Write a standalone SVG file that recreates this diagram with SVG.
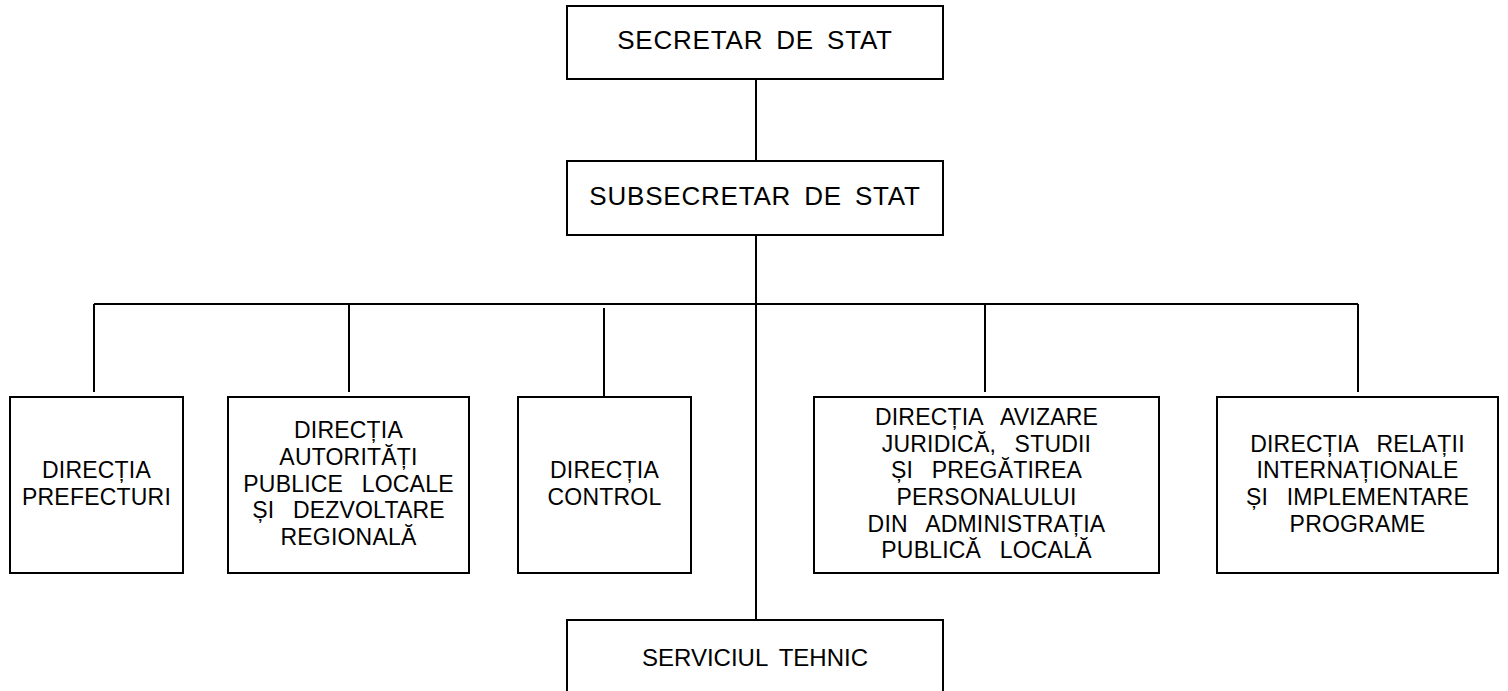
<svg xmlns="http://www.w3.org/2000/svg" width="1508" height="691" viewBox="0 0 1508 691">
<style>
.box{fill:#fff;stroke:#000;stroke-width:2}
.ln{stroke:#000;stroke-width:2;fill:none}
text{font-family:"Liberation Sans",Arial,sans-serif;font-size:23px;fill:#000;text-anchor:middle;letter-spacing:0.2px;word-spacing:12px}
text.big{font-size:26px;letter-spacing:0.8px;word-spacing:5px}
text.svc{font-size:24px;letter-spacing:0px;word-spacing:5px}
</style>
<rect width="1508" height="691" fill="#fff"/>
<g id="connectors">
<line class="ln" x1="756" y1="79" x2="756" y2="161"/>
<line class="ln" x1="756" y1="235" x2="756" y2="620"/>
<line class="ln" x1="94" y1="304" x2="1358" y2="304"/>
<line class="ln" x1="94" y1="304" x2="94" y2="392"/>
<line class="ln" x1="349" y1="304" x2="349" y2="392"/>
<line class="ln" x1="604" y1="308" x2="604" y2="397"/>
<line class="ln" x1="985" y1="304" x2="985" y2="392"/>
<line class="ln" x1="1358" y1="304" x2="1358" y2="392"/>
</g>
<g id="secretar">
<rect class="box" x="567" y="6" width="376" height="73"/>
<text class="big" x="755" y="49">SECRETAR DE STAT</text>
</g>
<g id="subsecretar">
<rect class="box" x="567" y="161" width="376" height="74"/>
<text class="big" x="755" y="205">SUBSECRETAR DE STAT</text>
</g>
<g id="prefecturi">
<rect class="box" x="10" y="397" width="173" height="176"/>
<text x="96.5" y="478">DIRECȚIA</text>
<text x="96.5" y="505">PREFECTURI</text>
</g>
<g id="autoritati">
<rect class="box" x="228" y="397" width="241" height="176"/>
<text x="348.5" y="438">DIRECȚIA</text>
<text x="348.5" y="465">AUTORITĂȚI</text>
<text x="348.5" y="492">PUBLICE LOCALE</text>
<text x="348.5" y="518">ȘI DEZVOLTARE</text>
<text x="348.5" y="545">REGIONALĂ</text>
</g>
<g id="control">
<rect class="box" x="518" y="397" width="173" height="176"/>
<text x="604.5" y="478">DIRECȚIA</text>
<text x="604.5" y="505">CONTROL</text>
</g>
<g id="avizare">
<rect class="box" x="814" y="397" width="345" height="176"/>
<text x="986.5" y="425">DIRECȚIA AVIZARE</text>
<text x="986.5" y="452">JURIDICĂ, STUDII</text>
<text x="986.5" y="478">ȘI PREGĂTIREA</text>
<text x="986.5" y="505">PERSONALULUI</text>
<text x="986.5" y="532">DIN ADMINISTRAȚIA</text>
<text x="986.5" y="558">PUBLICĂ LOCALĂ</text>
</g>
<g id="relatii">
<rect class="box" x="1217" y="397" width="281" height="176"/>
<text x="1357.5" y="452">DIRECȚIA RELAȚII</text>
<text x="1357.5" y="478">INTERNAȚIONALE</text>
<text x="1357.5" y="505">ȘI IMPLEMENTARE</text>
<text x="1357.5" y="532">PROGRAME</text>
</g>
<g id="serviciul">
<rect class="box" x="567" y="620" width="376" height="80"/>
<text class="svc" x="755" y="666">SERVICIUL TEHNIC</text>
</g>
</svg>
